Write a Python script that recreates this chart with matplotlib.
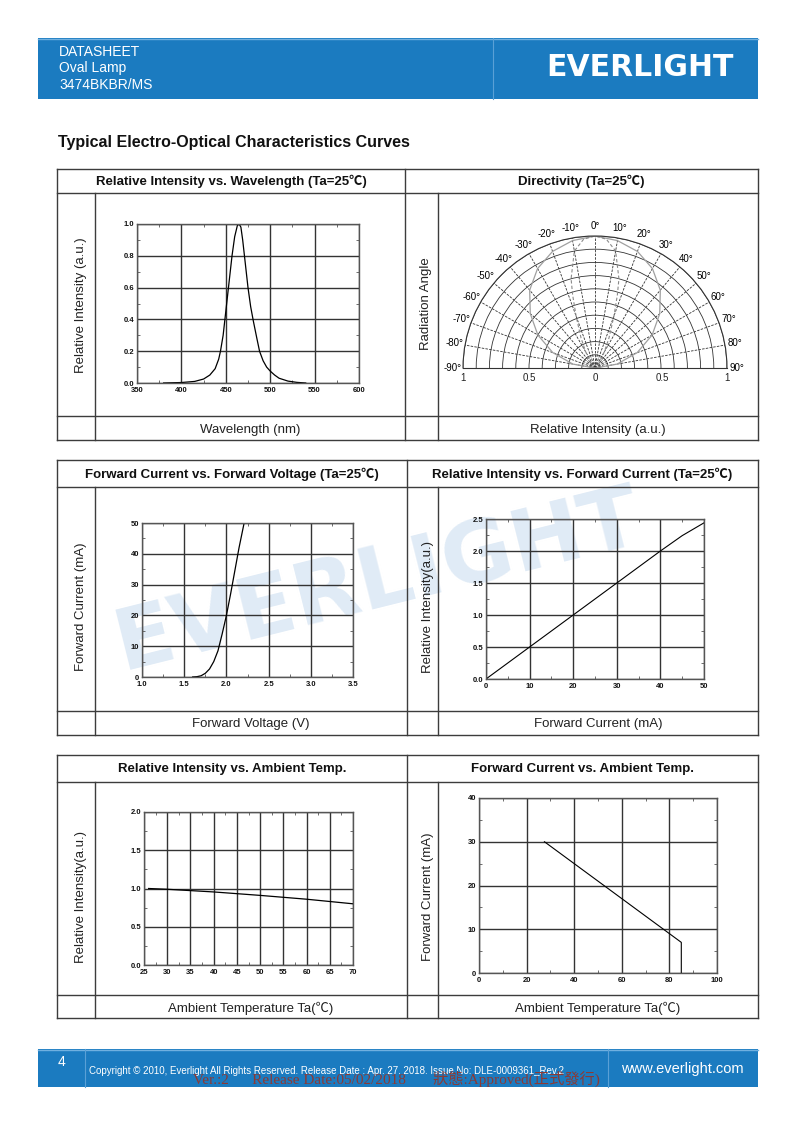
import numpy as np
import matplotlib
matplotlib.use('Agg')
import matplotlib.pyplot as plt
from matplotlib.patches import Rectangle
from matplotlib.ticker import MultipleLocator, FormatStrFormatter

# ---------------- data ----------------
wl_nm = [380, 400, 415, 425, 432, 438, 442, 444, 447, 449, 452, 455, 457, 460, 463, 465,
         467, 469, 471, 473, 475, 478, 481, 485, 488, 492, 496, 500, 505, 510, 520, 530, 540]
wl_int = [0.0, 0.003, 0.01, 0.025, 0.05, 0.09, 0.15, 0.2, 0.3, 0.4, 0.55, 0.7, 0.8, 0.92, 0.99, 1.0,
          0.98, 0.9, 0.8, 0.7, 0.6, 0.48, 0.39, 0.28, 0.2, 0.14, 0.1, 0.075, 0.05, 0.03, 0.012, 0.004, 0.0]

dir_wide_deg = [-90, -80, -70, -60, -50, -40, -30, -20, -10, 0, 10, 20, 30, 40, 50, 60, 70, 80, 90]
dir_wide_r = [0.0, 0.17, 0.34, 0.5, 0.64, 0.77, 0.87, 0.94, 0.98, 1.0, 0.98, 0.94, 0.87, 0.77, 0.64, 0.5, 0.34, 0.17, 0.0]
dir_narrow_deg = [-90, -60, -40, -30, -25, -20, -17, -15, -10, -5, 0, 5, 10, 15, 17, 20, 25, 30, 40, 60, 90]
dir_narrow_r = [0.0, 0.01, 0.05, 0.14, 0.25, 0.42, 0.58, 0.7, 0.9, 0.98, 1.0, 0.98, 0.9, 0.7, 0.58, 0.42, 0.25, 0.14, 0.05, 0.01, 0.0]
dir_angle_ticks = list(range(-90, 91, 10))
dir_r_labels = ['1', '0.5', '0', '0.5', '1']

vf_volt = [1.60, 1.65, 1.70, 1.75, 1.80, 1.85, 1.90, 1.95, 2.00, 2.05, 2.10, 2.15, 2.21]
vf_curr = [0.0, 0.1, 0.4, 1.2, 2.6, 5.0, 8.5, 14.0, 20.0, 27.0, 34.5, 42.0, 50.0]

if_curr = [0, 10, 20, 30, 40, 45, 50]
if_int = [0.0, 0.5, 1.0, 1.5, 2.0, 2.24, 2.44]

ta_temp = [26, 30, 40, 50, 60, 70]
ta_int = [1.0, 0.99, 0.955, 0.91, 0.86, 0.80]

der_temp = [27.5, 85, 85]
der_curr = [30, 7, 0]

# ---------------- figure ----------------
W, H = 793, 1123
fig = plt.figure(figsize=(W / 100, H / 100), dpi=100)
plt.rcParams['font.family'] = ['Liberation Sans', 'Noto Sans CJK SC', 'DejaVu Sans']

bg = fig.add_axes([0, 0, 1, 1], zorder=-5)
bg.set_xlim(0, W)
bg.set_ylim(H, 0)
bg.axis('off')

BLUE = '#1b7bc0'
LINE = '#3c3c3c'


def px_axes(l, t, r, b, **kw):
    return fig.add_axes([l / W, 1 - b / H, (r - l) / W, (b - t) / H], **kw)


# header band
bg.add_patch(Rectangle((38, 38), 720, 61, fc=BLUE, ec='none', zorder=1))
bg.plot([38, 758], [38.5, 38.5], color='#6fb0e0', lw=1, zorder=2)
bg.plot([493, 493], [38, 99], color='#5aa0d6', lw=0.8, zorder=2)
for txt, y in [('DATASHEET', 52), ('Oval Lamp', 68), ('3474BKBR/MS', 85)]:
    bg.text(59, y, txt, color='white', fontsize=10, va='center', ha='left', zorder=3)
bg.text(640, 68, 'EVERLIGHT', color='white', fontsize=21.5, fontweight='bold',
        family=['DejaVu Sans'], va='center', ha='center', zorder=3)

bg.text(58, 142, 'Typical Electro-Optical Characteristics Curves', fontsize=11.5,
        fontweight='bold', va='center', ha='left', color='#111111')

# watermark
bg.text(378, 582, 'EVERLIGHT', rotation=14, fontsize=62, fontweight='bold',
        family=['DejaVu Sans'], color='#e0ebf6', ha='center', va='center', zorder=0)


def table(top, hb, lt, bot, mid, lcol, rcol, titles, labels):
    kw = dict(color=LINE, lw=1.0, zorder=2)
    for y in (top, hb, lt, bot):
        bg.plot([57, 758], [y, y], **kw)
    for x in (57, 758, mid):
        bg.plot([x, x], [top, bot], **kw)
    for x in (lcol, rcol):
        bg.plot([x, x], [hb, bot], **kw)
    bg.text((57 + mid) / 2, (top + hb) / 2 + 0.5, titles[0], fontsize=9.5, fontweight='bold',
            ha='center', va='center', color='#111111')
    bg.text((mid + 758) / 2, (top + hb) / 2 + 0.5, titles[1], fontsize=9.5, fontweight='bold',
            ha='center', va='center', color='#111111')
    bg.text((lcol + mid) / 2, (lt + bot) / 2 + 1.5, labels[0], fontsize=9.5,
            ha='center', va='center', color='#222222')
    bg.text((rcol + 758) / 2, (lt + bot) / 2 + 1.5, labels[1], fontsize=9.5,
            ha='center', va='center', color='#222222')


table(169, 193, 416, 440, 405, 95, 438,
      ['Relative Intensity vs. Wavelength (Ta=25℃)', 'Directivity (Ta=25℃)'],
      ['Wavelength (nm)', 'Relative Intensity (a.u.)'])
table(460, 487, 711, 735, 407, 95, 438,
      ['Forward Current vs. Forward Voltage (Ta=25℃)', 'Relative Intensity vs. Forward Current (Ta=25℃)'],
      ['Forward Voltage (V)', 'Forward Current (mA)'])
table(755, 782, 995, 1018, 407, 95, 438,
      ['Relative Intensity vs. Ambient Temp.', 'Forward Current vs. Ambient Temp.'],
      ['Ambient Temperature Ta(℃)', 'Ambient Temperature Ta(℃)'])

# y labels
for x, y, s in [(81, 305, 'Relative Intensity (a.u.)'), (426, 304, 'Radiation Angle'),
                (81, 607, 'Forward Current (mA)'), (428, 607, 'Relative Intensity(a.u.)'),
                (81, 897, 'Relative Intensity(a.u.)'), (428, 897, 'Forward Current (mA)')]:
    bg.text(x, y, s, rotation=90, fontsize=9.5, ha='center', va='center', color='#222222')


def style(ax, xlim, ylim, xmaj, ymaj, xmin, ymin, xfmt, yfmt):
    ax.set_facecolor('none')
    ax.set_xlim(*xlim)
    ax.set_ylim(*ylim)
    ax.xaxis.set_major_locator(MultipleLocator(xmaj))
    ax.yaxis.set_major_locator(MultipleLocator(ymaj))
    ax.xaxis.set_minor_locator(MultipleLocator(xmin))
    ax.yaxis.set_minor_locator(MultipleLocator(ymin))
    ax.xaxis.set_major_formatter(FormatStrFormatter(xfmt))
    ax.yaxis.set_major_formatter(FormatStrFormatter(yfmt))
    ax.grid(True, which='major', color='#333333', lw=1.0)
    ax.tick_params(which='both', direction='in', top=True, right=True)
    ax.tick_params(which='major', length=0, labelsize=5.5, labelcolor='#111111')
    ax.tick_params(axis='x', which='major', pad=3)
    ax.tick_params(axis='y', which='major', pad=2)
    ax.tick_params(which='minor', length=2, width=0.6, color='#555555')
    for lab in ax.get_xticklabels() + ax.get_yticklabels():
        lab.set_fontweight('bold')
    for s in ax.spines.values():
        s.set_color('#555555')
        s.set_linewidth(1.0)


ax1 = px_axes(137, 224, 359, 383)
ax1.plot(wl_nm, wl_int, color='black', lw=0.9)
style(ax1, (350, 600), (0, 1.0), 50, 0.2, 25, 0.1, '%d', '%.1f')

ax2 = px_axes(142, 523, 353, 677)
ax2.plot(vf_volt, vf_curr, color='black', lw=0.9)
style(ax2, (1.0, 3.5), (0, 50), 0.5, 10, 0.25, 5, '%.1f', '%d')

ax3 = px_axes(486, 519, 704, 679)
ax3.plot(if_curr, if_int, color='black', lw=0.8)
style(ax3, (0, 50), (0, 2.5), 10, 0.5, 5, 0.25, '%d', '%.1f')

ax4 = px_axes(144, 812, 353, 965)
ax4.plot(ta_temp, ta_int, color='black', lw=0.9)
style(ax4, (25, 70), (0, 2.0), 5, 0.5, 2.5, 0.25, '%d', '%.1f')

ax5 = px_axes(479, 798, 717, 973)
ax5.plot(der_temp, der_curr, color='black', lw=0.8)
style(ax5, (0, 100), (0, 40), 20, 10, 10, 5, '%d', '%d')

# polar directivity (square box so the half disc has radius 132 px, centre at 595,368)
axp = px_axes(463, 236 - 66, 727, 368 + 66, projection='polar')
axp.set_facecolor('none')
axp.set_theta_zero_location('N')
axp.set_theta_direction(-1)
axp.set_thetamin(-90)
axp.set_thetamax(90)
axp.set_rlim(0, 1)
axp.set_rticks(np.arange(0.1, 1.01, 0.1))
axp.set_yticklabels([])
axp.set_thetagrids(dir_angle_ticks, [f'{a}°' for a in dir_angle_ticks], fontsize=7)
axp.tick_params(axis='x', pad=-3)
axp.xaxis.grid(True, color='#333333', lw=0.6, linestyle=(0, (3, 1.5)))
axp.yaxis.grid(True, color='#333333', lw=0.6)
for k, s in axp.spines.items():
    s.set_color('#333333')
    s.set_linewidth(0.8)
axp.plot(np.deg2rad(dir_wide_deg), dir_wide_r, color='#a0a0a0', lw=0.9)
axp.plot(np.deg2rad(dir_narrow_deg), dir_narrow_r, color='#8a8a8a', lw=0.8, linestyle=(0, (3, 2)))
for x, s in zip([463, 529, 595, 662, 727], dir_r_labels):
    bg.text(x, 378, s, fontsize=7, ha='center', va='center', color='#222222')

# footer
bg.add_patch(Rectangle((38, 1049), 720, 38, fc=BLUE, ec='none', zorder=1))
bg.plot([38, 758], [1049.5, 1049.5], color='#6fb0e0', lw=1, zorder=2)
bg.plot([85, 85], [1049, 1087], color='#5aa0d6', lw=0.8, zorder=2)
bg.plot([608, 608], [1049, 1087], color='#5aa0d6', lw=0.8, zorder=2)
bg.text(61, 1062, '4', color='white', fontsize=10, ha='center', va='center', zorder=3)
bg.text(89, 1071, 'Copyright © 2010, Everlight All Rights Reserved. Release Date : Apr. 27. 2018. '
        'Issue No: DLE-0009361_Rev.2', color='white', fontsize=7, ha='left', va='center', zorder=3)
bg.text(621, 1069, 'www.everlight.com', color='white', fontsize=10.5, ha='left', va='center', zorder=3)
bg.text(193, 1079, 'Ver.:2      Release Date:05/02/2018       狀態:Approved(正式發行)',
        family=['Liberation Serif', 'Noto Sans CJK TC'], fontsize=11, color='#8a3a36',
        ha='left', va='center', zorder=4)

fig.savefig('out.png', dpi=100)
